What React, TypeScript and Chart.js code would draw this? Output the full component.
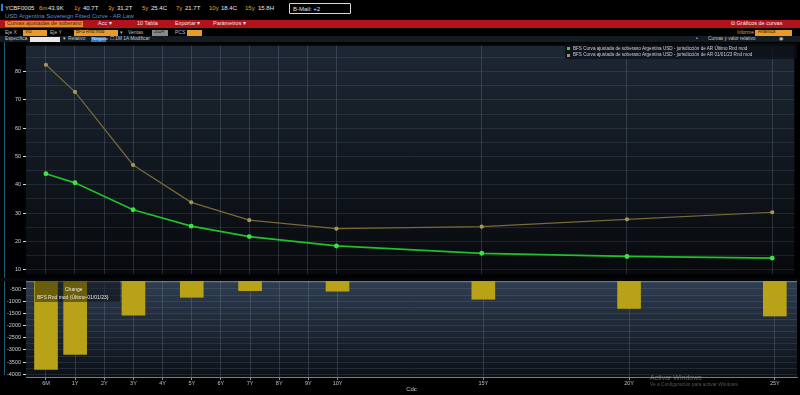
import React, { useEffect, useRef } from "react";
import { Chart, registerables } from "chart.js";
Chart.register(...registerables);

// ---------- DATA ----------
const tenorPositions = [0, 1, 2, 3, 4, 5, 6, 7, 8, 9, 10, 15, 20, 25];
const tenorLabels = ["6M", "1Y", "2Y", "3Y", "4Y", "5Y", "6Y", "7Y", "8Y", "9Y", "10Y", "15Y", "20Y", "25Y"];
const curvePositions = [0, 1, 3, 5, 7, 10, 15, 20, 25];
const latestYield = [43.9, 40.7, 31.2, 25.4, 21.7, 18.4, 15.8, 14.7, 14.1];
const startYield = [82.4, 72.8, 47.0, 33.8, 27.5, 24.5, 25.2, 27.8, 30.3];
const changeBp = [-3800, -3180, -1570, -840, -570, -590, -920, -1300, -1610];
const headerTenors = ["6m", "1y", "3y", "5y", "7y", "10y", "15y"];
const headerValues = ["43.9K", "40.7T", "31.2T", "25.4C", "21.7T", "18.4C", "15.8H"];
const seriesNames = [
  "BFS Curva ajustada de soberano Argentina USD - jurisdicción de AR Último Rnd mod",
  "BFS Curva ajustada de soberano Argentina USD - jurisdicción de AR 01/01/23 Rnd mod",
];
const xTitle = "Cdc";

// ---------- STYLE ----------
const FONT = "'Liberation Sans', Arial, sans-serif";
const X_MIN = -0.686;
const X_MAX = 25.76;
const AXIS_W = 26;

const bgPlugin = (id: string, top: string, bottom: string, topLine?: string) => ({
  id,
  beforeDraw(chart: any) {
    const { ctx, chartArea: a } = chart;
    const g = ctx.createLinearGradient(0, a.top, 0, a.bottom);
    g.addColorStop(0, top);
    g.addColorStop(1, bottom);
    ctx.save();
    ctx.fillStyle = g;
    ctx.fillRect(a.left, a.top, a.right - a.left, a.bottom - a.top);
    if (topLine) {
      ctx.strokeStyle = topLine;
      ctx.lineWidth = 1;
      ctx.beginPath();
      ctx.moveTo(a.left, a.top + 0.5);
      ctx.lineTo(a.right, a.top + 0.5);
      ctx.stroke();
    }
    ctx.restore();
  },
});

const xScale = (showLabels: boolean): any => ({
  type: "linear",
  min: X_MIN,
  max: X_MAX,
  offset: false,
  afterBuildTicks: (s: any) => {
    s.ticks = tenorPositions.map((v) => ({ value: v }));
  },
  afterFit: (s: any) => {
    s.height = showLabels ? 18 : 0;
    s.paddingLeft = 0;
    s.paddingRight = 0;
  },
  ticks: {
    display: showLabels,
    autoSkip: false,
    maxRotation: 0,
    padding: 0,
    color: "#b9c2cc",
    font: { family: FONT, size: 5.5 },
    callback: (_v: any, i: number) => tenorLabels[i],
  },
  grid: {
    offset: false,
    color: "rgba(150,168,192,0.22)",
    drawTicks: showLabels,
    tickLength: 3,
    tickColor: "rgba(200,208,218,0.7)",
  },
  border: { display: showLabels, color: "rgba(170,180,192,0.7)" },
  title: showLabels
    ? {
        display: true,
        text: xTitle,
        color: "#c4ccd4",
        font: { family: FONT, size: 6 },
        padding: { top: 0, bottom: 2 },
      }
    : { display: false },
});

const yScale = (min: number, max: number, minorStep: number, labelStep: number, from: number, to: number): any => ({
  type: "linear",
  min,
  max,
  afterBuildTicks: (s: any) => {
    const t: any[] = [];
    for (let v = from; v <= to + 1e-9; v += minorStep) t.push({ value: v });
    s.ticks = t;
  },
  afterFit: (s: any) => {
    s.width = AXIS_W;
    s.paddingTop = 0;
    s.paddingBottom = 0;
  },
  ticks: {
    autoSkip: false,
    padding: 2,
    color: "#c9d1db",
    font: { family: FONT, size: 5.5 },
    callback: (v: number) => (Math.abs(v % labelStep) < 1e-9 ? String(v) : ""),
  },
  grid: {
    color: "rgba(140,160,185,0.15)",
    tickLength: 3,
    tickColor: (ctx: any) =>
      ctx.tick && Math.abs(ctx.tick.value % labelStep) < 1e-9 ? "#d4dae2" : "rgba(0,0,0,0)",
  },
  border: { display: false },
});

function TopChart() {
  const ref = useRef<HTMLCanvasElement>(null);
  useEffect(() => {
    const chart = new Chart(ref.current!, {
      type: "line",
      data: {
        datasets: [
          {
            label: seriesNames[0],
            data: curvePositions.map((x, i) => ({ x, y: latestYield[i] })),
            borderColor: "#20c02a",
            backgroundColor: "#3be345",
            pointBackgroundColor: "#3be345",
            pointBorderColor: "#3be345",
            borderWidth: 1.7,
            pointRadius: 1.6,
            tension: 0,
          },
          {
            label: seriesNames[1],
            data: curvePositions.map((x, i) => ({ x, y: startYield[i] })),
            borderColor: "#776a38",
            backgroundColor: "#a4965c",
            pointBackgroundColor: "#a4965c",
            pointBorderColor: "#a4965c",
            borderWidth: 1.2,
            pointRadius: 1.5,
            tension: 0,
          },
        ],
      },
      options: {
        animation: false,
        responsive: false,
        devicePixelRatio: 1,
        layout: { padding: { top: 2, bottom: 2, left: 0, right: 3 } },
        plugins: { legend: { display: false }, tooltip: { enabled: false } },
        scales: {
          x: xScale(false),
          y: yScale(8.39, 89.13, 5, 10, 10, 85),
        },
      } as any,
      plugins: [bgPlugin("bgTop", "#1d2734", "#07090c")],
    });
    return () => chart.destroy();
  }, []);
  return <canvas ref={ref} width={800} height={240} style={{ position: "absolute", left: 0, top: 40 }} />;
}

function BottomChart() {
  const ref = useRef<HTMLCanvasElement>(null);
  useEffect(() => {
    const chart = new Chart(ref.current!, {
      type: "bar",
      data: {
        datasets: [
          {
            label: "Change",
            data: curvePositions.map((x, i) => ({ x, y: changeBp[i] })),
            backgroundColor: "#b7a218",
            borderWidth: 0,
            barThickness: 23,
            clip: 0,
          } as any,
        ],
      },
      options: {
        animation: false,
        responsive: false,
        devicePixelRatio: 1,
        layout: { padding: { top: 1, bottom: 0, left: 0, right: 3 } },
        plugins: { legend: { display: false }, tooltip: { enabled: false } },
        scales: {
          x: xScale(true),
          y: yScale(-4111, -172, 250, 500, -4000, -250),
        },
      } as any,
      plugins: [bgPlugin("bgBottom", "#2f3e52", "#0c1016", "rgba(150,165,182,0.55)")],
    });
    return () => chart.destroy();
  }, []);
  return <canvas ref={ref} width={800} height={115} style={{ position: "absolute", left: 0, top: 280 }} />;
}

const T = ({ x, y, s = 6, c = "#dcdcdc", children, style }: any) => (
  <div
    style={{
      position: "absolute",
      left: x,
      top: y,
      fontSize: s,
      color: c,
      lineHeight: 1,
      whiteSpace: "nowrap",
      fontFamily: FONT,
      ...style,
    }}
  >
    {children}
  </div>
);

const Box = ({ x, y, w, h, bg, border, children, style }: any) => (
  <div
    style={{
      position: "absolute",
      left: x,
      top: y,
      width: w,
      height: h,
      background: bg,
      border,
      boxSizing: "border-box",
      ...style,
    }}
  >
    {children}
  </div>
);

export default function App() {
  useEffect(() => {
    document.body.style.margin = "0";
    document.body.style.background = "#000";
  }, []);
  const hx = [39, 74, 108, 142, 176, 209, 245];
  const vx = [48, 83, 117, 151, 185, 221, 258];
  return (
    <div style={{ position: "fixed", left: 0, top: 0, width: 800, height: 395, background: "#000", overflow: "hidden", fontFamily: FONT }}>
      {/* Row 1 */}
      <Box x={1} y={4} w={2} h={7} bg="#3a7bd5" />
      <T x={5} y={4.5} s={6} c="#e8e8e8">YCBF0005</T>
      {headerTenors.map((t, i) => (
        <React.Fragment key={t}>
          <T x={hx[i]} y={4.5} s={6} c="#f0a020">{t}</T>
          <T x={vx[i]} y={4.5} s={6} c="#e8e8e8">{headerValues[i]}</T>
        </React.Fragment>
      ))}
      <Box x={289} y={3} w={62} h={11} border="1px solid #d8d8d8" style={{ borderRadius: 1 }} />
      <T x={293} y={5.5} s={6} c="#e0e0e0">B-Mail: +2</T>
      {/* Row 2 */}
      <T x={5} y={13} s={6} c="#5b8fc4">USD Argentina Sovereign Fitted Curve - AR Law</T>
      {/* Row 3 red band */}
      <Box x={0} y={20} w={800} h={7.5} bg="#b3121c" />
      <Box x={5} y={20.5} w={78} h={6.5} bg="#e38a2a" />
      <T x={7} y={21.3} s={5.5} c="#5a1a08">Curvas ajustadas de soberano</T>
      <T x={98} y={21.3} s={5.5} c="#f0e0e0">Acc ▾</T>
      <T x={137} y={21.3} s={5.5} c="#f0e0e0">10 Tabla</T>
      <T x={175} y={21.3} s={5.5} c="#f0e0e0">Exportar ▾</T>
      <T x={213} y={21.3} s={5.5} c="#f0e0e0">Parámetros ▾</T>
      <T x={731} y={21.3} s={5.5} c="#f4eaea">⧉ Gráficos de curvas</T>
      {/* Row 4 */}
      <T x={5} y={30} s={5} c="#bdbdbd">Eje X</T>
      <Box x={23} y={29.5} w={24} h={6} bg="#e89a2a" />
      <T x={25} y={30.3} s={4.5} c="#3a2000">Vto</T>
      <T x={50} y={30} s={5} c="#bdbdbd">Eje Y</T>
      <Box x={74} y={29.5} w={44} h={6} bg="#e89a2a" />
      <T x={76} y={30.3} s={4.5} c="#3a2000">BFS Rnd mod</T>
      <T x={120} y={30} s={5} c="#bdbdbd">▾</T>
      <T x={128} y={30} s={5} c="#bdbdbd">Ventas</T>
      <Box x={152} y={29.5} w={16} h={6} bg="#8a8a8a" />
      <T x={154} y={30.3} s={4.5} c="#222">2024</T>
      <T x={175} y={30} s={5} c="#bdbdbd">PCS</T>
      <Box x={187} y={29.5} w={15} h={6} bg="#e89a2a" />
      <T x={737} y={30} s={5} c="#e89a2a">Informe</T>
      <Box x={755} y={29.5} w={37} h={6} bg="#e89a2a" />
      <T x={758} y={30.3} s={4.5} c="#3a2000">Analítica</T>
      {/* Row 5 */}
      <Box x={0} y={36} w={800} h={6} bg="#141b22" />
      <T x={5} y={36.7} s={4.8} c="#c8c8c8">Específica</T>
      <Box x={30} y={36.5} w={30} h={5} bg="#e8e8e8" />
      <T x={63} y={36.7} s={4.8} c="#c8c8c8">▾</T>
      <T x={68} y={36.7} s={4.8} c="#c8c8c8">Relativo</T>
      <Box x={91} y={36.5} w={15} h={5} bg="#2f7ad0" />
      <T x={92} y={36.9} s={4.2} c="#f0f0f0">Ninguno</T>
      <T x={110} y={36.7} s={4.8} c="#c8c8c8">☐ 1M 1A Modificar</T>
      <T x={696} y={36.7} s={4.8} c="#c8c8c8">•</T>
      <T x={708} y={36.7} s={4.8} c="#c8c8c8">Curvas y valor relativo</T>
      <T x={779} y={36.7} s={4.8} c="#c8c8c8">◉</T>

      {/* Charts */}
      <TopChart />
      <BottomChart />

      {/* Left teal line */}
      <Box x={4} y={42} w={1} h={333} bg="#1d5a78" />
      {/* panel separator */}
      <Box x={0} y={278} w={800} h={2.5} bg="#050607" />

      {/* Legend */}
      <Box x={565} y={43} w={232} h={16} bg="rgba(10,14,20,0.75)" />
      <Box x={567} y={47} w={3} h={3} bg="#2ad133" />
      <T x={573} y={46.5} s={4.6} c="#c9ced4">{seriesNames[0]}</T>
      <Box x={567} y={53.5} w={3} h={3} bg="#a4965c" />
      <T x={573} y={53} s={4.6} c="#c9ced4">{seriesNames[1]}</T>

      {/* Hover box over bars */}
      <Box x={35} y={281} w={85} h={21} bg="rgba(0,0,0,0.42)" />
      <T x={65} y={286.5} s={5} c="#e8e6d8">Change</T>
      <T x={37} y={294.5} s={5} c="#e8e6d8">BFS Rnd mod (Último-01/01/23)</T>

      {/* Windows watermark */}
      <T x={650} y={374} s={7} c="rgba(200,200,200,0.45)">Activar Windows</T>
      <T x={650} y={383} s={4.8} c="rgba(200,200,200,0.4)">Ve a Configuración para activar Windows.</T>
    </div>
  );
}
